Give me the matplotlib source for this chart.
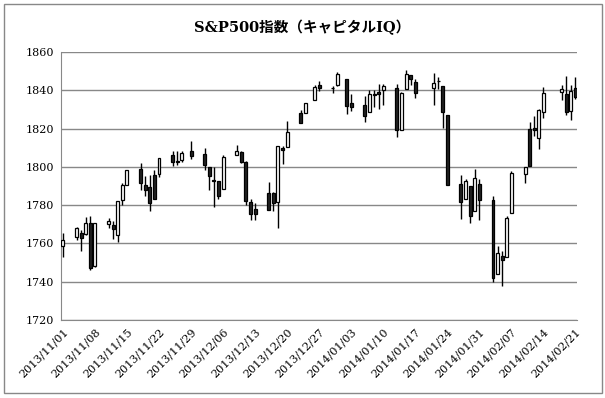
import matplotlib
matplotlib.use("Agg")
import matplotlib.pyplot as plt
import matplotlib.dates as mdates
from matplotlib.patches import Rectangle
import numpy as np
import pandas as pd

dates = ["2013-11-01", "2013-11-04", "2013-11-05", "2013-11-06", "2013-11-07", "2013-11-08",
         "2013-11-11", "2013-11-12", "2013-11-13", "2013-11-14", "2013-11-15",
         "2013-11-18", "2013-11-19", "2013-11-20", "2013-11-21", "2013-11-22",
         "2013-11-25", "2013-11-26", "2013-11-27", "2013-11-29",
         "2013-12-02", "2013-12-03", "2013-12-04", "2013-12-05", "2013-12-06",
         "2013-12-09", "2013-12-10", "2013-12-11", "2013-12-12", "2013-12-13",
         "2013-12-16", "2013-12-17", "2013-12-18", "2013-12-19", "2013-12-20",
         "2013-12-23", "2013-12-24", "2013-12-26", "2013-12-27",
         "2013-12-30", "2013-12-31", "2014-01-02", "2014-01-03",
         "2014-01-06", "2014-01-07", "2014-01-08", "2014-01-09", "2014-01-10",
         "2014-01-13", "2014-01-14", "2014-01-15", "2014-01-16", "2014-01-17",
         "2014-01-21", "2014-01-22", "2014-01-23", "2014-01-24",
         "2014-01-27", "2014-01-28", "2014-01-29", "2014-01-30", "2014-01-31",
         "2014-02-03", "2014-02-04", "2014-02-05", "2014-02-06", "2014-02-07",
         "2014-02-10", "2014-02-11", "2014-02-12", "2014-02-13", "2014-02-14",
         "2014-02-18", "2014-02-19", "2014-02-20", "2014-02-21"]

opens = [1758.7, 1763.4, 1765.7, 1765.0, 1770.7, 1748.4,
         1770.0, 1769.5, 1764.4, 1782.8, 1790.7,
         1798.8, 1790.8, 1789.6, 1795.9, 1796.4,
         1806.3, 1802.9, 1803.5, 1808.2,
         1806.6, 1800.1, 1793.2, 1792.8, 1788.4,
         1806.2, 1807.6, 1802.8, 1781.7, 1778.0,
         1786.5, 1786.5, 1781.5, 1810.0, 1810.4,
         1828.0, 1828.0, 1835.0, 1843.0,
         1841.5, 1842.6, 1845.9, 1833.2,
         1832.3, 1828.7, 1837.9, 1839.0, 1840.1,
         1841.3, 1819.3, 1840.5, 1848.0, 1844.2,
         1841.1, 1844.7, 1842.3, 1827.0,
         1791.0, 1783.0, 1790.2, 1777.2, 1790.9,
         1782.7, 1743.8, 1753.4, 1753.0, 1776.0,
         1796.2, 1819.8, 1820.1, 1814.9, 1828.5,
         1839.0, 1838.2, 1829.2, 1841.1]

highs = [1765.7, 1768.8, 1767.0, 1773.7, 1774.5, 1770.8,
         1773.4, 1771.8, 1782.0, 1791.5, 1798.2,
         1802.3, 1795.5, 1795.7, 1798.2, 1804.8,
         1808.1, 1808.4, 1808.3, 1813.6,
         1810.0, 1800.1, 1799.8, 1792.8, 1806.0,
         1811.5, 1808.5, 1803.0, 1783.0, 1780.9,
         1792.2, 1786.8, 1811.1, 1810.9, 1823.8,
         1829.8, 1833.3, 1842.8, 1844.9,
         1842.5, 1849.4, 1845.9, 1838.2,
         1837.2, 1840.1, 1840.0, 1843.2, 1843.2,
         1843.5, 1839.3, 1850.8, 1848.0, 1846.0,
         1849.3, 1846.9, 1842.3, 1827.0,
         1796.0, 1793.9, 1790.2, 1798.8, 1793.9,
         1784.8, 1758.7, 1755.8, 1774.1, 1798.0,
         1799.9, 1823.5, 1826.6, 1830.3, 1841.7,
         1842.9, 1847.5, 1842.8, 1846.9]

lows = [1752.7, 1761.6, 1755.8, 1764.4, 1746.2, 1747.6,
        1767.9, 1762.3, 1760.6, 1780.2, 1790.7,
        1788.0, 1784.7, 1777.2, 1783.5, 1794.7,
        1800.6, 1800.8, 1802.8, 1804.0,
        1798.6, 1787.9, 1779.1, 1783.4, 1788.4,
        1806.2, 1801.8, 1780.1, 1772.3, 1772.5,
        1777.5, 1777.1, 1768.0, 1801.4, 1810.3,
        1822.9, 1828.0, 1835.0, 1839.8,
        1838.8, 1842.4, 1827.7, 1829.1,
        1823.7, 1828.7, 1831.4, 1830.4, 1832.4,
        1815.5, 1819.3, 1840.5, 1843.0, 1835.9,
        1832.4, 1840.9, 1820.1, 1790.3,
        1772.9, 1783.0, 1770.5, 1777.2, 1772.3,
        1739.7, 1743.8, 1737.9, 1753.0, 1776.0,
        1791.8, 1800.4, 1816.0, 1809.2, 1825.6,
        1835.0, 1827.0, 1824.6, 1835.6]

closes = [1761.6, 1767.9, 1763.0, 1770.5, 1747.2, 1770.6,
          1771.9, 1767.7, 1782.0, 1790.6, 1798.2,
          1791.5, 1787.9, 1781.4, 1783.5, 1804.8,
          1802.5, 1802.8, 1807.2, 1805.8,
          1800.9, 1795.2, 1792.8, 1785.0, 1805.1,
          1808.4, 1802.6, 1782.2, 1775.5, 1775.3,
          1777.5, 1781.0, 1810.7, 1809.0, 1818.3,
          1822.9, 1833.3, 1842.0, 1841.4,
          1841.1, 1848.4, 1832.0, 1831.4,
          1826.8, 1837.9, 1837.5, 1838.1, 1842.4,
          1819.2, 1838.9, 1848.4, 1845.9, 1838.7,
          1843.8, 1844.9, 1828.5, 1790.3,
          1781.6, 1792.5, 1774.2, 1794.2, 1782.6,
          1741.9, 1755.2, 1751.6, 1773.4, 1797.0,
          1799.8, 1800.4, 1819.3, 1829.8, 1838.6,
          1840.8, 1828.8, 1839.8, 1836.3]

x = mdates.date2num(pd.to_datetime(dates))
o = np.array(opens)
h = np.array(highs)
l = np.array(lows)
c = np.array(closes)
up = c >= o

fig = plt.figure(figsize=(6.05, 3.98), dpi=100)
ax = fig.add_axes([0.101, 0.196, 0.853, 0.673])

# wicks
ax.vlines(x, l, h, color="black", linewidth=1, zorder=2)
# bodies
bottoms = np.minimum(o, c)
heights = np.maximum(np.abs(c - o), 0.4)
ax.bar(x[up], heights[up], bottom=bottoms[up], width=0.65,
       color="white", edgecolor="black", linewidth=0.9, zorder=3)
ax.bar(x[~up], heights[~up], bottom=bottoms[~up], width=0.65,
       color="#222222", edgecolor="black", linewidth=0.9, zorder=3)

start = mdates.date2num(pd.Timestamp("2013-11-01"))
end = mdates.date2num(pd.Timestamp("2014-02-21"))
ax.set_xlim(start - 0.4, end + 0.4)
ax.set_ylim(1720, 1860)
ax.set_yticks(range(1720, 1861, 20))
ticks = np.arange(start, end + 1, 7)
ax.set_xticks(ticks)
ax.xaxis.set_major_formatter(mdates.DateFormatter("%Y/%m/%d"))
ax.grid(axis="y", color="#888888", linewidth=1)
ax.set_axisbelow(True)
ax.tick_params(length=0, labelsize=8, pad=5)
for lab in ax.get_xticklabels():
    lab.set_rotation(45)
    lab.set_ha("right")
    lab.set_rotation_mode("anchor")
    lab.set_family("DejaVu Serif")
for lab in ax.get_yticklabels():
    lab.set_family("DejaVu Serif")
for s in ["top", "right"]:
    ax.spines[s].set_visible(False)
for s in ["left", "bottom"]:
    ax.spines[s].set_color("#888888")

fig.text(0.5, 0.932, "S&P500指数（キャピタルIQ）", ha="center", va="center",
         fontsize=10.5, fontweight="bold", family=["DejaVu Serif", "Noto Sans CJK JP"])

fig.patches.append(Rectangle((0.007, 0.013), 0.988, 0.977, transform=fig.transFigure,
                             fill=False, edgecolor="#888888", linewidth=1))

fig.savefig("out.png", dpi=100)
